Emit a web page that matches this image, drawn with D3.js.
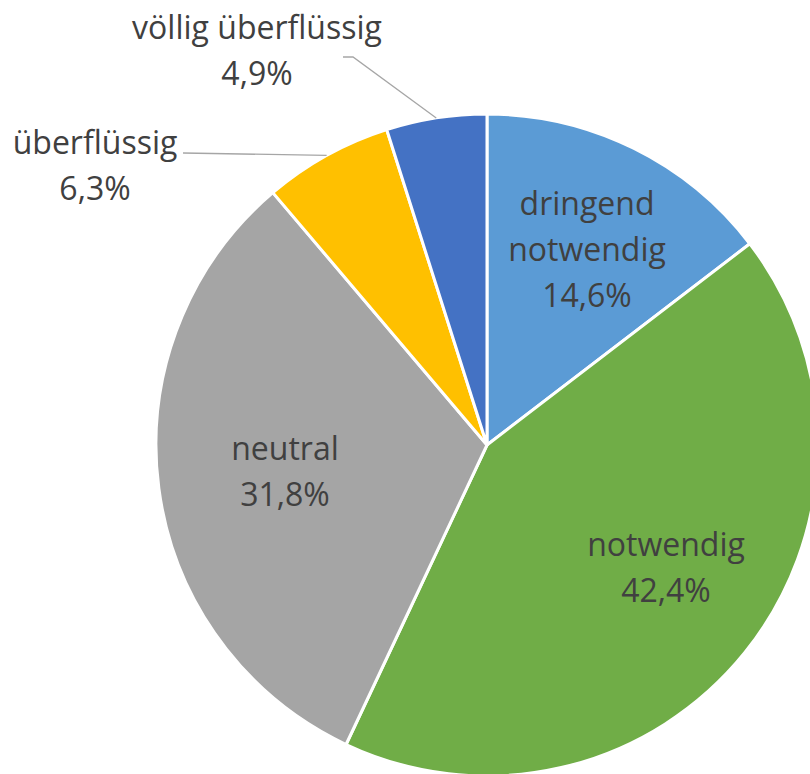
<!DOCTYPE html>
<html>
<head>
<meta charset="utf-8">
<script src="https://cdn.jsdelivr.net/npm/d3@7"></script>
<style>
  body { margin: 0; background: #fff; }
  svg { display: block; }
  text { font-family: "Open Sans", sans-serif; fill: #404040; }
</style>
</head>
<body>
<svg id="chart"></svg>
<script>
var width = 810;
var height = 774;

// data, clockwise from 12 o'clock
var categories = ["dringend notwendig", "notwendig", "neutral", "überflüssig", "völlig überflüssig"];
var shares = [14.6, 42.4, 31.8, 6.3, 4.9];
var labelLines = [["dringend", "notwendig"], ["notwendig"], ["neutral"], ["überflüssig"], ["völlig überflüssig"]];
var colors = ["#5B9BD5", "#70AD47", "#A5A5A5", "#FFC000", "#4472C4"];

var cx = 487, cy = 445, radius = 331;
var fontSize = 32, lineH = 46;

var data = categories.map(function(c, i){
    return { name: c, value: shares[i], lines: labelLines[i], color: colors[i] };
});

var svg = d3.select("#chart")
    .attr("width", width)
    .attr("height", height);

var g = svg.append("g")
    .attr("transform", "translate(" + cx + "," + cy + ")");

var pie = d3.pie()
    .sort(null)
    .value(function(d){ return d.value; });

var arcs = pie(data);

var arc = d3.arc()
    .innerRadius(0)
    .outerRadius(radius);

g.selectAll(".slice")
    .data(arcs)
    .enter()
    .append("path")
    .attr("class", "slice")
    .attr("d", arc)
    .attr("fill", function(d){ return d.data.color; })
    .attr("stroke", "#fff")
    .attr("stroke-width", 3)
    .attr("stroke-linejoin", "round");

function fmt(v){ return v.toFixed(1).replace(".", ",") + "%"; }

// label block anchors (x center, mean baseline), relative to pie center
var labelPos = [[100, -184], [179, 134], [-202, 38], [-392, -268], [-230, -383]];
// leader lines for the small slices: [knee, end]
var leaders = {
    3: [[-304, -292], [-304, -292]],
    4: [[-134, -388], [-144, -388]]
};

function edgePoint(d, r){
    var a = (d.startAngle + d.endAngle) / 2;
    return [r * Math.sin(a), -r * Math.cos(a)];
}

arcs.forEach(function(d, i){
    var lines = d.data.lines.concat([fmt(d.data.value)]);
    if (i in leaders) {
        var s = edgePoint(d, radius);
        g.append("polyline")
            .attr("points", [s].concat(leaders[i]).map(function(p){ return p.join(","); }).join(" "))
            .attr("fill", "none")
            .attr("stroke", "#A6A6A6")
            .attr("stroke-width", 1.3);
    }
    var x = labelPos[i][0], y = labelPos[i][1];
    var t = g.append("text")
        .attr("text-anchor", "middle")
        .attr("font-size", fontSize);
    lines.forEach(function(l, k){
        t.append("tspan")
            .attr("x", x)
            .attr("y", y + (k - (lines.length - 1) / 2) * lineH)
            .text(l);
    });
});
</script>
</body>
</html>
